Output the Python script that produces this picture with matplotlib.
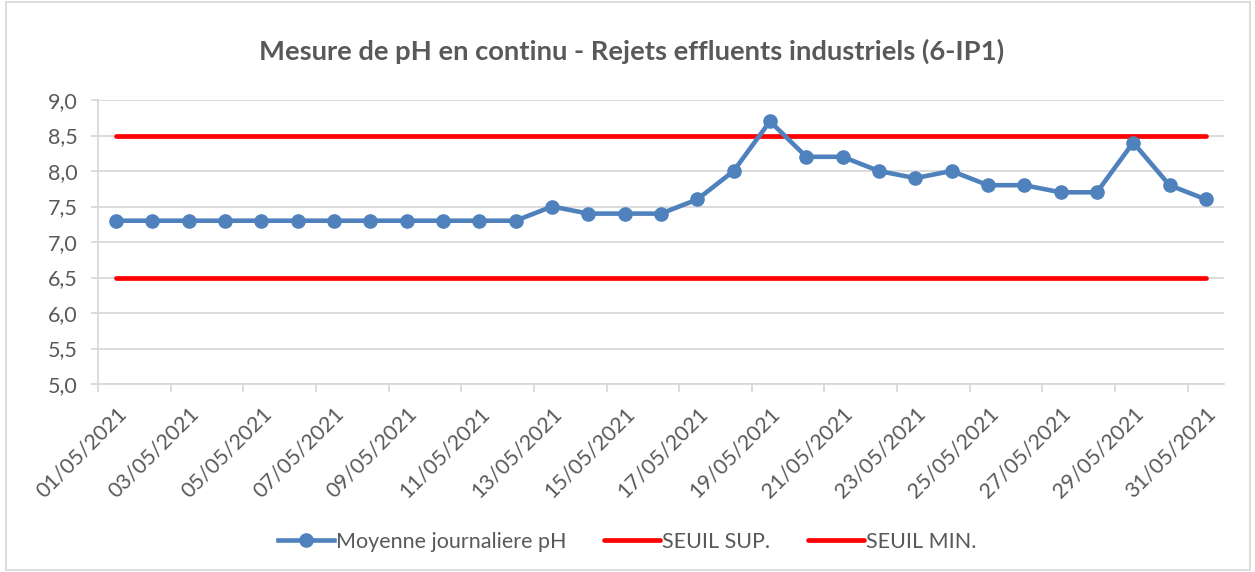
import numpy as np
import matplotlib.pyplot as plt
from matplotlib import rc

rc('font', family=['Lato', 'DejaVu Sans'])

days = ['%02d/05/2021' % d for d in range(1, 32)]
ph = [7.3, 7.3, 7.3, 7.3, 7.3, 7.3, 7.3, 7.3, 7.3, 7.3, 7.3, 7.3,
      7.5, 7.4, 7.4, 7.4, 7.6, 8.0, 8.7, 8.2, 8.2, 8.0, 7.9, 8.0,
      7.8, 7.8, 7.7, 7.7, 8.4, 7.8, 7.6]
seuil_sup = [8.5] * 31
seuil_min = [6.5] * 31

TXT = '#595959'
GRID = '#D9D9D9'

fig = plt.figure(figsize=(12.55, 5.72), dpi=100)
ax = fig.add_axes([98 / 1255, 1 - 384 / 572, (1224 - 98) / 1255, (384 - 100) / 572])

x = np.arange(len(days))
ax.plot(x, seuil_sup, color='#FF0000', lw=3.4, solid_capstyle='round', label='SEUIL SUP.', zorder=3)
ax.plot(x, seuil_min, color='#FF0000', lw=3.4, solid_capstyle='round', label='SEUIL MIN.', zorder=3)
ax.plot(x, ph, color='#4F81BD', lw=3.3, marker='o', ms=9.5, label='Moyenne journaliere pH', zorder=4)

ax.set_xlim(-0.5, len(days) - 0.5)
ax.set_ylim(5.0, 9.0)
ax.set_yticks(np.arange(5.0, 9.01, 0.5))
ax.set_yticklabels([('%.1f' % v).replace('.', ',') for v in np.arange(5.0, 9.01, 0.5)])
ax.grid(axis='y', color=GRID, lw=1.3)
ax.set_axisbelow(True)

# tick marks between categories, labels on odd days
ax.set_xticks(np.arange(-0.5, len(days) - 1, 2))
ax.set_xticklabels([])
ax.set_xticks(x[::2], minor=True)
ax.set_xticklabels(days[::2], minor=True, rotation=45, ha='right', va='top',
                   rotation_mode='anchor', fontsize=15.5, color=TXT)
ax.tick_params(axis='x', which='minor', length=0, pad=14)
ax.tick_params(axis='x', which='major', length=5.5, color=GRID, width=1.3)
ax.tick_params(axis='y', length=5, color=GRID, width=1.3, labelsize=15.5, labelcolor=TXT, pad=9.5)

for s in ['top', 'right']:
    ax.spines[s].set_visible(False)
for s in ['left', 'bottom']:
    ax.spines[s].set_color(GRID)
    ax.spines[s].set_linewidth(1.3)

fig.suptitle('Mesure de pH en continu - Rejets effluents industriels (6-IP1)',
             x=0.503, y=0.932, fontsize=19.7, fontweight='bold', color=TXT)

h, l = ax.get_legend_handles_labels()
order = [2, 0, 1]
fig.legend([h[i] for i in order], [l[i] for i in order], loc='center',
           bbox_to_anchor=(0.5, 1 - 542 / 572), ncol=3, frameon=False,
           fontsize=15.5, labelcolor=TXT, handlelength=2.6, handletextpad=0.1,
           columnspacing=1.75)

fig.patches.append(plt.Rectangle((6 / 1255, 0.003), 1244 / 1255, 0.994,
                                 transform=fig.transFigure, fill=False,
                                 edgecolor=GRID, lw=1.3))

fig.savefig('out.png')
